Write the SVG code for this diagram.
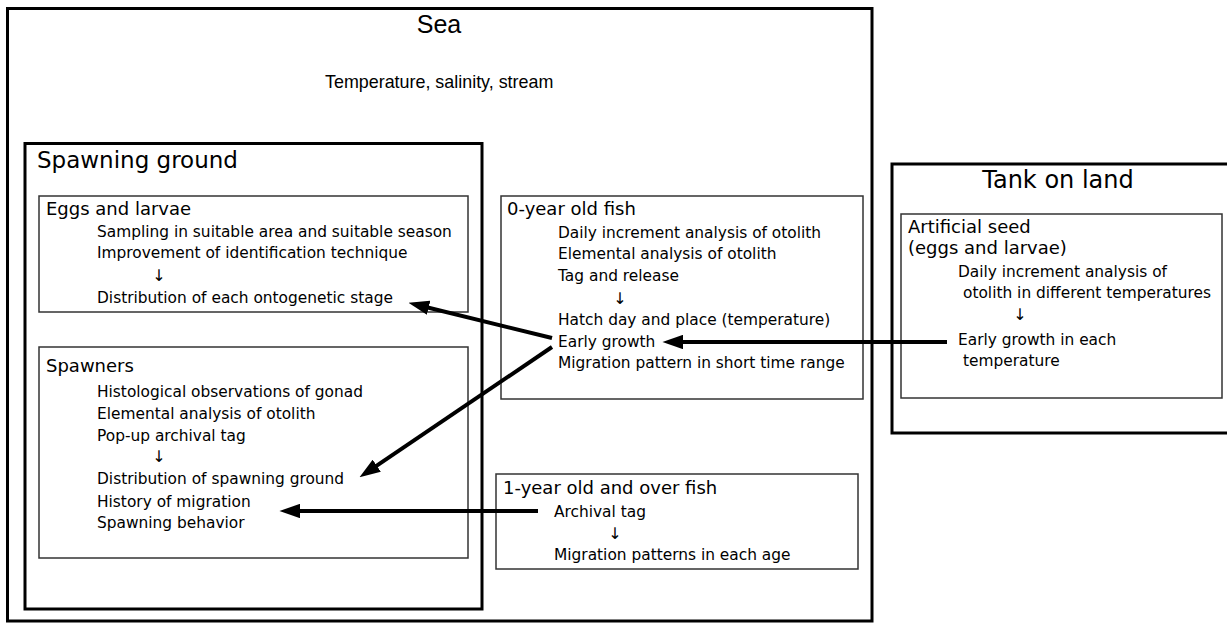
<svg xmlns="http://www.w3.org/2000/svg" width="1227" height="624" viewBox="0 0 1227 624">
<style>
  .thick { fill: none; stroke: #000; stroke-width: 3; }
  .thin { fill: none; stroke: #333; stroke-width: 1.5; }
  .t { font-family: "DejaVu Sans", sans-serif; fill: #000; }
  .title { font-size: 23px; }
  .head { font-size: 18px; }
  .item { font-size: 15.4px; }
  .arr { font-size: 16px; }
  .arial { font-family: "Liberation Sans", Arial, sans-serif; fill: #000; }
  .conn { fill: none; stroke: #000; stroke-width: 4; }
</style>
<defs>
  <marker id="ah" viewBox="0 0 10 7" markerWidth="5.2" markerHeight="3.64" refX="3" refY="3.5" orient="auto" markerUnits="strokeWidth">
    <path d="M0,0 L10,3.5 L0,7 z" fill="#000"/>
  </marker>
</defs>
<rect width="1227" height="624" fill="#fff"/>

<g id="sea">
  <rect class="thick" x="7.5" y="8.5" width="864.5" height="612.5"/>
  <text class="arial" x="439" y="33" font-size="25" text-anchor="middle">Sea</text>
  <text class="arial" x="325" y="88" font-size="17.9">Temperature, salinity, stream</text>
</g>

<g id="spawning-ground">
  <rect class="thick" x="25" y="143.5" width="457" height="465.5"/>
  <text class="t title" x="37" y="168">Spawning ground</text>
</g>

<g id="eggs-larvae">
  <rect class="thin" x="39" y="196" width="429" height="116"/>
  <text class="t head" x="46" y="215">Eggs and larvae</text>
  <text class="t item" x="97" y="237">Sampling in suitable area and suitable season</text>
  <text class="t item" x="97" y="258">Improvement of identification technique</text>
  <text class="t item arr" x="159" y="281" text-anchor="middle">↓</text>
  <text class="t item" x="97" y="303">Distribution of each ontogenetic stage</text>
</g>

<g id="spawners">
  <rect class="thin" x="39" y="347" width="429" height="211"/>
  <text class="t head" x="46" y="372">Spawners</text>
  <text class="t item" x="97" y="397">Histological observations of gonad</text>
  <text class="t item" x="97" y="419">Elemental analysis of otolith</text>
  <text class="t item" x="97" y="441">Pop-up archival tag</text>
  <text class="t item arr" x="159" y="462" text-anchor="middle">↓</text>
  <text class="t item" x="97" y="484">Distribution of spawning ground</text>
  <text class="t item" x="97" y="507">History of migration</text>
  <text class="t item" x="97" y="528">Spawning behavior</text>
</g>

<g id="zero-year-fish">
  <rect class="thin" x="501" y="196" width="362" height="203"/>
  <text class="t head" x="507" y="215">0-year old fish</text>
  <text class="t item" x="558" y="238">Daily increment analysis of otolith</text>
  <text class="t item" x="558" y="259">Elemental analysis of otolith</text>
  <text class="t item" x="558" y="281">Tag and release</text>
  <text class="t item arr" x="620" y="304" text-anchor="middle">↓</text>
  <text class="t item" x="558" y="325">Hatch day and place (temperature)</text>
  <text class="t item" x="558" y="347">Early growth</text>
  <text class="t item" x="558" y="368">Migration pattern in short time range</text>
</g>

<g id="one-year-fish">
  <rect class="thin" x="496" y="474" width="362" height="95"/>
  <text class="t head" x="503" y="494">1-year old and over fish</text>
  <text class="t item" x="554" y="517">Archival tag</text>
  <text class="t item arr" x="615" y="539" text-anchor="middle">↓</text>
  <text class="t item" x="554" y="560">Migration patterns in each age</text>
</g>

<g id="tank-on-land">
  <rect class="thick" x="892" y="164" width="350" height="269"/>
  <text class="t" x="1058" y="188" font-size="24" text-anchor="middle">Tank on land</text>
</g>

<g id="artificial-seed">
  <rect class="thin" x="901" y="214" width="321" height="184"/>
  <text class="t head" x="908" y="233">Artificial seed</text>
  <text class="t head" x="908" y="254">(eggs and larvae)</text>
  <text class="t item" x="958" y="277">Daily increment analysis of</text>
  <text class="t item" x="963" y="298">otolith in different temperatures</text>
  <text class="t item arr" x="1020" y="320" text-anchor="middle">↓</text>
  <text class="t item" x="958" y="345">Early growth in each</text>
  <text class="t item" x="963" y="366">temperature</text>
</g>

<g id="connectors">
  <line class="conn" x1="552" y1="338" x2="422.6" y2="306.3" marker-end="url(#ah)"/>
  <line class="conn" x1="552" y1="347" x2="371.6" y2="469.2" marker-end="url(#ah)"/>
  <line class="conn" x1="947" y1="342" x2="677" y2="342" marker-end="url(#ah)"/>
  <line class="conn" x1="538" y1="511" x2="294" y2="511" marker-end="url(#ah)"/>
</g>
</svg>
